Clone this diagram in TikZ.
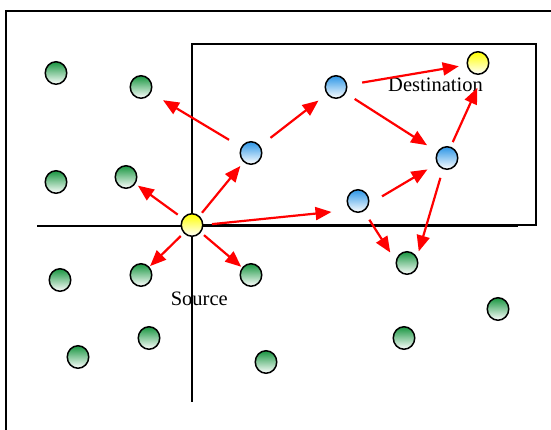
\documentclass[tikz,border=0pt]{standalone}
\usepackage{fontspec}
\setmainfont{Liberation Serif}
\usetikzlibrary{arrows.meta,shapes.geometric}
\definecolor{ngreen}{RGB}{25,150,65}
\definecolor{nblue}{RGB}{45,150,230}
\definecolor{nyellow}{RGB}{255,255,0}
\tikzset{
  sensor/.style={ellipse, draw=black, line width=1.5pt, minimum width=21.5pt, minimum height=22.5pt, inner sep=0pt},
  gnode/.style={sensor, top color=ngreen, bottom color=white},
  bnode/.style={sensor, top color=nblue, bottom color=white},
  ynode/.style={sensor, top color=nyellow, bottom color=white},
  frameline/.style={draw=black, line width=1.3pt},
  boxline/.style={draw=black, line width=2pt},
  axisline/.style={draw=black, line width=1.3pt},
  lbl/.style={font=\fontsize{20.5}{24}\selectfont, inner sep=0pt, anchor=base},
  msg/.style={draw=red, line width=2.2pt, -{Triangle[length=16pt,width=13pt]}}
}
\begin{document}
\begin{tikzpicture}[x=1pt,y=-1pt]
\useasboundingbox[fill=white] (0,0) rectangle (551,430);
% frames and axes
\draw[frameline] (6,440) -- (6,11) -- (560,11);
\draw[boxline] (192,44) rectangle (535.5,225);
\draw[axisline] (37,226) -- (518,226);
\draw[axisline] (192,44) -- (192,402);
% labels
\node[lbl] (ldst) at (435.5,92) {Destination};
\node[lbl] (lsrc) at (199.3,305) {Source};
% green nodes
\node[gnode] (g1) at (56,73) {};
\node[gnode] (g2) at (141,87) {};
\node[gnode] (g3) at (56,182) {};
\node[gnode] (g4) at (126,177) {};
\node[gnode] (g5) at (60,280) {};
\node[gnode] (g6) at (141,275) {};
\node[gnode] (g7) at (251,275) {};
\node[gnode] (g8) at (149,338) {};
\node[gnode] (g9) at (78,357) {};
\node[gnode] (g10) at (266,362) {};
\node[gnode] (g11) at (407,263) {};
\node[gnode] (g12) at (498,309) {};
\node[gnode] (g13) at (404,338) {};
% blue nodes
\node[bnode] (b1) at (251,153) {};
\node[bnode] (b2) at (336,87) {};
\node[bnode] (b3) at (447,158) {};
\node[bnode] (b4) at (358,201) {};
% source and destination
\node[ynode] (src) at (192,225) {};
\node[ynode] (dst) at (478,63) {};
% arrows
\draw[msg, shorten <=14pt, shorten >=14pt] (b1) -- (g2);
\draw[msg, shorten <=6pt, shorten >=3pt] (src) -- (g4);
\draw[msg, shorten <=4pt, shorten >=5pt] (src) -- (b1);
\draw[msg, shorten <=13pt, shorten >=10.5pt] (b1) -- (b2);
\draw[msg, shorten <=15pt, shorten >=8pt] (b2) -- (dst);
\draw[msg, shorten <=10.5pt, shorten >=12pt] (b2) -- (b3);
\draw[msg, shorten <=5pt, shorten >=16pt] (b3.72) -- (dst.300);
\draw[msg, shorten <=15pt, shorten >=11pt] (b4.-15) -- (b3.210);
\draw[msg, shorten <=9pt, shorten >=6pt] (b3.250) -- (g11.30);
\draw[msg, shorten <=8.5pt, shorten >=19pt] (src.east) -- (b4.230);
\draw[msg, shorten <=10pt, shorten >=10pt] (b4.-60) -- (g11.170);
\draw[msg, shorten <=4pt, shorten >=1pt] (src) -- (g6);
\draw[msg, shorten <=4pt, shorten >=1pt] (src) -- (g7);
\end{tikzpicture}
\end{document}
